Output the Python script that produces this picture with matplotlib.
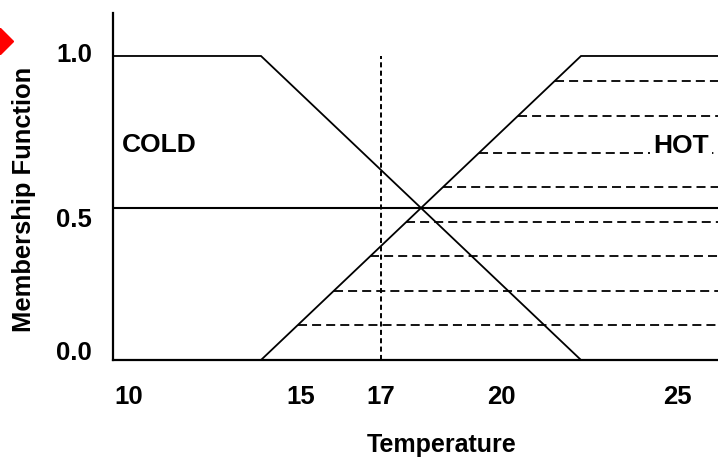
import numpy as np
import matplotlib.pyplot as plt
from matplotlib.lines import Line2D

plt.rcParams['font.family'] = ['Liberation Sans', 'DejaVu Sans']
plt.rcParams['font.weight'] = 'bold'

# 소속함수 (사다리꼴)
cold_x = [10, 14, 22, 26]
cold_y = [1.0, 1.0, 0.0, 0.0]
hot_x = [10, 14, 22, 26]
hot_y = [0.0, 0.0, 1.0, 1.0]

cut_level = 0.5        # 수평 절단선
temp_now = 17          # 현재 온도 (수직 점선)
hatch_levels = [0.115, 0.227, 0.342, 0.454, 0.569, 0.681, 0.803, 0.918]

xtick_labels = ['10', '15', '17', '20', '25']
xtick_pos = [10.7, 15, 17, 20, 24.4]
ytick_labels = ['0.0', '0.5', '1.0']
ytick_pos = [0.03, 0.47, 1.01]

W, H = 718, 457
fig = plt.figure(figsize=(W / 100, H / 100), dpi=100)
ax = fig.add_axes([113 / W, 97 / H, 605 / W, 347 / H])
ax.set_xlim(10.3, 25.425)
ax.set_ylim(0, 1.1414)

# COLD / HOT
ax.plot(cold_x, cold_y, color='black', lw=1.3, solid_joinstyle='miter')
ax.plot(hot_x, hot_y, color='black', lw=1.3, solid_joinstyle='miter')

# 절단선
ax.axhline(cut_level, color='black', lw=1.5)

# 현재 온도
ax.vlines(temp_now, 0, 1.0, color='black', lw=1.4, linestyles=(0, (2.6, 1.7)))

# HOT 영역 빗금 (점선)
for lv in hatch_levels:
    x0 = np.interp(lv, hot_y[1:3], hot_x[1:3])
    ax.plot([x0, hot_x[-1]], [lv, lv], color='black', lw=1.3, ls=(0, (5, 2.8)))

ax.text(10.525, 0.683, 'COLD', fontsize=19, va='baseline', ha='left')
ax.text(23.8, 0.681, 'HOT', fontsize=19, va='baseline', ha='left', zorder=5,
        bbox=dict(boxstyle='square,pad=0.12', fc='white', ec='none'))

ax.set_xticks(xtick_pos)
ax.set_xticklabels(xtick_labels)
ax.set_yticks(ytick_pos)
ax.set_yticklabels(ytick_labels)
ax.tick_params(axis='x', length=0, pad=18, labelsize=18.5)
ax.tick_params(axis='y', length=0, pad=15, labelsize=18.5)

for s in ['top', 'right']:
    ax.spines[s].set_visible(False)
for s in ['left', 'bottom']:
    ax.spines[s].set_linewidth(1.6)

fig.text(442 / W, 1 - 452 / H, 'Temperature', fontsize=18, ha='center', va='baseline')
fig.text(24 / W, 1 - 199 / H, 'Membership Function', fontsize=18.4,
         ha='center', va='center', rotation=90)

# 빨간 마름모 (좌상단)
fig.add_artist(Line2D([0], [1 - 41 / H], marker='D', ms=13.5, color='red',
                      ls='none', transform=fig.transFigure, clip_on=False))

fig.savefig('out.png', dpi=100)
